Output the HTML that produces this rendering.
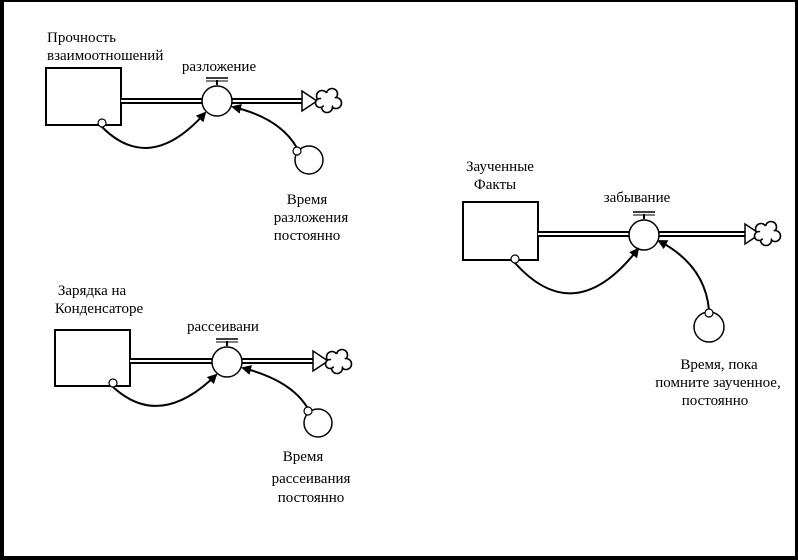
<!DOCTYPE html>
<html><head><meta charset="utf-8"><style>
html,body{margin:0;padding:0;background:#fff}
svg{display:block}
text{font-family:"Liberation Serif","DejaVu Serif",serif;font-size:15px;fill:#000}
</style></head><body>
<svg width="798" height="560" viewBox="0 0 798 560" xmlns="http://www.w3.org/2000/svg">
<defs>
<marker id="ah" markerWidth="10" markerHeight="10" refX="8" refY="5" orient="auto" markerUnits="userSpaceOnUse">
<path d="M0,0 L10,5 L0,10 Z" fill="#000"/>
</marker>
<g id="cloud">
<circle cx="-6" cy="-4" r="5.5" fill="#fff" stroke="#000" stroke-width="1.6"/>
<circle cx="4" cy="-6" r="5.5" fill="#fff" stroke="#000" stroke-width="1.6"/>
<circle cx="8" cy="3" r="5.5" fill="#fff" stroke="#000" stroke-width="1.6"/>
<circle cx="-1" cy="7" r="5.5" fill="#fff" stroke="#000" stroke-width="1.6"/>
<circle cx="-8" cy="3" r="4.5" fill="#fff" stroke="#000" stroke-width="1.6"/>
<circle cx="0" cy="0" r="7" fill="#fff"/>
</g>
</defs>
<rect x="0" y="0" width="798" height="2" fill="#000"/>
<rect x="0" y="0" width="4" height="560" fill="#000"/>
<rect x="795" y="0" width="3" height="560" fill="#000"/>
<rect x="0" y="556" width="798" height="4" fill="#000"/>

<!-- Diagram 1 -->
<rect x="46" y="68" width="75" height="57" fill="#fff" stroke="#000" stroke-width="2"/>
<line x1="121" y1="101" x2="302" y2="101" stroke="#000" stroke-width="6"/>
<line x1="121" y1="101" x2="303" y2="101" stroke="#fff" stroke-width="2"/>
<path d="M302,91 L317,101 L302,111 Z" fill="#fff" stroke="#000" stroke-width="1.5"/>
<use href="#cloud" x="328" y="100"/>
<line x1="217" y1="85" x2="217" y2="80" stroke="#000" stroke-width="2"/>
<line x1="206" y1="78" x2="228" y2="78" stroke="#000" stroke-width="1.5"/>
<line x1="206" y1="81" x2="228" y2="81" stroke="#000" stroke-width="1"/>
<circle cx="217" cy="101" r="15" fill="#fff" stroke="#000" stroke-width="1.5"/>
<path d="M102,127 Q150,175 205,113" fill="none" stroke="#000" stroke-width="2" marker-end="url(#ah)"/>
<circle cx="102" cy="123" r="4" fill="#fff" stroke="#000" stroke-width="1.2"/>
<path d="M297,148 Q280,118 233,107" fill="none" stroke="#000" stroke-width="2" marker-end="url(#ah)"/>
<circle cx="309" cy="160" r="14" fill="#fff" stroke="#000" stroke-width="1.5"/>
<circle cx="297" cy="151" r="4" fill="#fff" stroke="#000" stroke-width="1.2"/>
<text x="47" y="42">Прочность</text>
<text x="47" y="60">взаимоотношений</text>
<text x="219" y="71" text-anchor="middle">разложение</text>
<text x="307" y="204" text-anchor="middle">Время</text>
<text x="311" y="222" text-anchor="middle">разложения</text>
<text x="307" y="240" text-anchor="middle">постоянно</text>

<!-- Diagram 2 -->
<rect x="463" y="202" width="75" height="58" fill="#fff" stroke="#000" stroke-width="2"/>
<line x1="538" y1="234" x2="745" y2="234" stroke="#000" stroke-width="6"/>
<line x1="538" y1="234" x2="746" y2="234" stroke="#fff" stroke-width="2"/>
<path d="M745,224 L760,234 L745,244 Z" fill="#fff" stroke="#000" stroke-width="1.5"/>
<use href="#cloud" x="767" y="233"/>
<line x1="644" y1="219" x2="644" y2="214" stroke="#000" stroke-width="2"/>
<line x1="633" y1="212" x2="655" y2="212" stroke="#000" stroke-width="1.5"/>
<line x1="633" y1="215" x2="655" y2="215" stroke="#000" stroke-width="1"/>
<circle cx="644" cy="235" r="15" fill="#fff" stroke="#000" stroke-width="1.5"/>
<path d="M515,263 Q575,330 638,249" fill="none" stroke="#000" stroke-width="2" marker-end="url(#ah)"/>
<circle cx="515" cy="259" r="4" fill="#fff" stroke="#000" stroke-width="1.2"/>
<path d="M709,310 Q705,265 659,241" fill="none" stroke="#000" stroke-width="2" marker-end="url(#ah)"/>
<circle cx="709" cy="327" r="15" fill="#fff" stroke="#000" stroke-width="1.5"/>
<circle cx="709" cy="313" r="4" fill="#fff" stroke="#000" stroke-width="1.2"/>
<text x="500" y="171" text-anchor="middle">Заученные</text>
<text x="495" y="189" text-anchor="middle">Факты</text>
<text x="637" y="202" text-anchor="middle">забывание</text>
<text x="719" y="369" text-anchor="middle">Время, пока</text>
<text x="718" y="387" text-anchor="middle">помните заученное,</text>
<text x="715" y="405" text-anchor="middle">постоянно</text>

<!-- Diagram 3 -->
<rect x="55" y="330" width="75" height="56" fill="#fff" stroke="#000" stroke-width="2"/>
<line x1="130" y1="361" x2="313" y2="361" stroke="#000" stroke-width="6"/>
<line x1="130" y1="361" x2="314" y2="361" stroke="#fff" stroke-width="2"/>
<path d="M313,351 L328,361 L313,371 Z" fill="#fff" stroke="#000" stroke-width="1.5"/>
<use href="#cloud" x="338" y="361"/>
<line x1="227" y1="346" x2="227" y2="341" stroke="#000" stroke-width="2"/>
<line x1="216" y1="339" x2="238" y2="339" stroke="#000" stroke-width="1.5"/>
<line x1="216" y1="342" x2="238" y2="342" stroke="#000" stroke-width="1"/>
<circle cx="227" cy="362" r="15" fill="#fff" stroke="#000" stroke-width="1.5"/>
<path d="M113,387 Q160,430 216,375" fill="none" stroke="#000" stroke-width="2" marker-end="url(#ah)"/>
<circle cx="113" cy="383" r="4" fill="#fff" stroke="#000" stroke-width="1.2"/>
<path d="M307,407 Q290,380 243,368" fill="none" stroke="#000" stroke-width="2" marker-end="url(#ah)"/>
<circle cx="318" cy="423" r="14" fill="#fff" stroke="#000" stroke-width="1.5"/>
<circle cx="308" cy="411" r="4" fill="#fff" stroke="#000" stroke-width="1.2"/>
<text x="92" y="295" text-anchor="middle">Зарядка на</text>
<text x="99" y="313" text-anchor="middle">Конденсаторе</text>
<text x="223" y="331" text-anchor="middle">рассеивани</text>
<text x="303" y="461" text-anchor="middle">Время</text>
<text x="311" y="483" text-anchor="middle">рассеивания</text>
<text x="311" y="502" text-anchor="middle">постоянно</text>
</svg>
</body></html>
